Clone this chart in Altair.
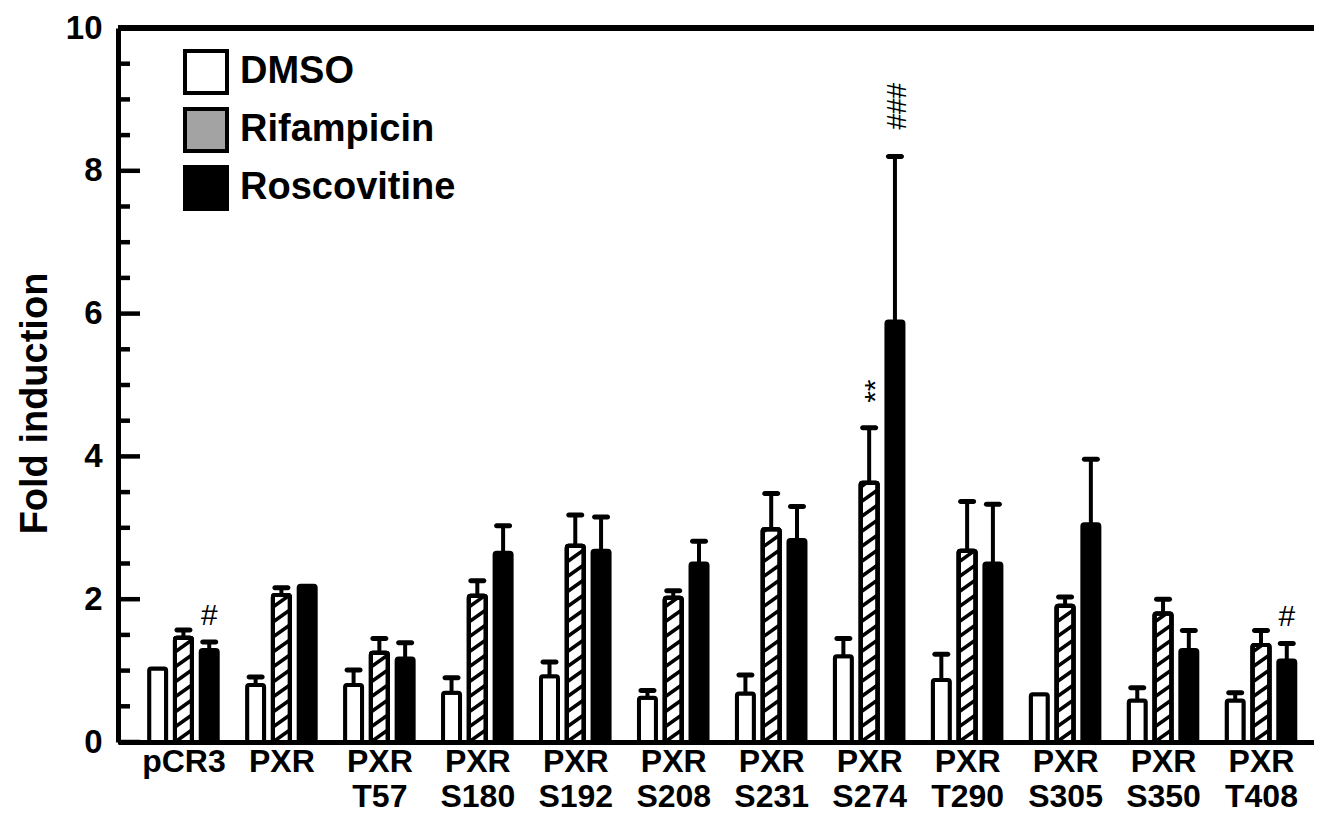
import altair as alt
import pandas as pd

# ---------------- data ----------------
group_labels = ["pCR3", "PXR", "PXR T57", "PXR S180", "PXR S192", "PXR S208",
                "PXR S231", "PXR S274", "PXR T290", "PXR S305", "PXR S350", "PXR T408"]
treatments = ["DMSO", "Rifampicin", "Roscovitine"]

dmso_mean = [1.03, 0.80, 0.80, 0.69, 0.92, 0.62, 0.68, 1.20, 0.87, 0.67, 0.58, 0.58]
dmso_err = [0.00, 0.11, 0.21, 0.21, 0.20, 0.10, 0.26, 0.25, 0.36, 0.00, 0.18, 0.11]
rif_mean = [1.46, 2.06, 1.25, 2.05, 2.75, 2.02, 2.98, 3.63, 2.68, 1.91, 1.80, 1.36]
rif_err = [0.11, 0.10, 0.20, 0.21, 0.43, 0.10, 0.50, 0.77, 0.69, 0.12, 0.20, 0.20]
ros_mean = [1.29, 2.19, 1.17, 2.65, 2.68, 2.50, 2.83, 5.89, 2.50, 3.05, 1.29, 1.14]
ros_err = [0.11, 0.00, 0.22, 0.38, 0.47, 0.31, 0.47, 2.31, 0.83, 0.91, 0.27, 0.24]

annot_group = ["pCR3", "PXR S274", "PXR S274", "PXR T408"]
annot_treat = ["Roscovitine", "Rifampicin", "Roscovitine", "Roscovitine"]
annot_text = ["#", "**", "###", "#"]
annot_rot = [False, True, True, False]

y_ticks = [0, 2, 4, 6, 8, 10]

# ---------------- layout constants ----------------
FONT = "Liberation Sans"
W, H = 1196, 714
X0, X1 = -0.617, 11.49
PXX = W / (X1 - X0)          # px per group unit
PXY = H / 10.0               # px per fold unit
offsets = {"DMSO": -26 / PXX, "Rifampicin": 0.0, "Roscovitine": 26 / PXX}

rows = []
for i, g in enumerate(group_labels):
    for t, m, e in zip(treatments, [dmso_mean[i], rif_mean[i], ros_mean[i]],
                       [dmso_err[i], rif_err[i], ros_err[i]]):
        rows.append({"group": g, "treatment": t, "xc": i + offsets[t],
                     "mean": m, "err": e, "top": m + e})
df = pd.DataFrame(rows)

# diagonal hatch for the Rifampicin bars (texture derived from bar heights)
half_px, period_px, rise_px = 8.5, 15.0, 12.0
hatch = []
for _, r in df[df.treatment == "Rifampicin"].iterrows():
    top_px = r["mean"] * PXY
    k = -1
    while True:
        y0 = k * period_px
        if y0 > top_px:
            break
        tmin = max(0.0, -y0 / rise_px)
        tmax = min(1.0, (top_px - y0) / rise_px)
        if tmin < tmax:
            xa = r.xc + (-half_px + tmin * 2 * half_px) / PXX
            xb = r.xc + (-half_px + tmax * 2 * half_px) / PXX
            hatch.append({"xa": xa, "xb": xb,
                          "ya": (y0 + tmin * rise_px) / PXY,
                          "yb": (y0 + tmax * rise_px) / PXY})
        k += 1
hatch_df = pd.DataFrame(hatch)

ann = pd.DataFrame({"group": annot_group, "treatment": annot_treat,
                    "label": annot_text, "rot": annot_rot})
ann = ann.merge(df, on=["group", "treatment"])

tick_major = pd.DataFrame({"v": y_ticks})
tick_minor = pd.DataFrame({"v": [x * 0.5 for x in range(21) if x * 0.5 not in y_ticks]})

# ---------------- scales / axes ----------------
label_expr = "[" + ",".join(
    "[" + ",".join("'" + p + "'" for p in g.split(" ")) + "]" for g in group_labels
) + "][datum.value]"

xscale = alt.Scale(domain=[X0, X1], nice=False, zero=False)
yscale = alt.Scale(domain=[0, 10], nice=False, zero=True)

xaxis = alt.Axis(values=list(range(len(group_labels))), ticks=False, grid=False,
                 domainWidth=5, domainColor="black", labelExpr=label_expr,
                 labelFont=FONT, labelFontWeight="bold", labelFontSize=32,
                 labelColor="black", labelPadding=4, labelLineHeight=35,
                 labelFlush=False, labelOverlap=False, labelBound=False, title=None)
yaxis = alt.Axis(values=y_ticks, format="d", ticks=False, grid=False, domainWidth=5,
                 domainColor="black", labelFont=FONT, labelFontWeight="bold",
                 labelFontSize=33, labelColor="black", labelPadding=16,
                 labelFlush=False, labelOverlap=False,
                 title="Fold induction", titleFont=FONT, titleFontWeight="bold",
                 titleFontSize=38, titleColor="black", titleAngle=270,
                 titleX=-72, titleY=375, titleAlign="center",
                 titleBaseline="alphabetic")

X = alt.X("xc:Q", scale=xscale, axis=xaxis)
Y = alt.Y("mean:Q", scale=yscale, axis=yaxis)

base = alt.Chart(df)

bars = base.mark_bar(size=17, stroke="black", strokeWidth=4,
                     cornerRadiusTopLeft=2, cornerRadiusTopRight=2).encode(
    x=X, y=Y,
    fill=alt.Fill("treatment:N",
                  scale=alt.Scale(domain=treatments,
                                  range=["white", "#a3a3a3", "black"]),
                  legend=alt.Legend(title=None, orient="none", legendX=65,
                                    legendY=21, symbolType="square",
                                    symbolSize=1764, symbolStrokeWidth=4,
                                    symbolStrokeColor="black", symbolOpacity=1,
                                    labelFont=FONT, labelFontWeight="bold",
                                    labelFontSize=38, labelColor="black",
                                    labelOffset=11, rowPadding=0, padding=0,
                                    labelLimit=400)))

rif = base.transform_filter(alt.datum.treatment == "Rifampicin")
rif_white = rif.mark_bar(size=17, fill="white", stroke="black", strokeWidth=4,
                         cornerRadiusTopLeft=2, cornerRadiusTopRight=2).encode(
    x="xc:Q", y="mean:Q")
stripes = alt.Chart(hatch_df).mark_rule(strokeWidth=3.5, color="black").encode(
    x="xa:Q", x2="xb:Q", y="ya:Q", y2="yb:Q")
rif_outline = rif.mark_bar(size=17, fill="white", fillOpacity=0, stroke="black",
                           strokeWidth=4, cornerRadiusTopLeft=2,
                           cornerRadiusTopRight=2).encode(x="xc:Q", y="mean:Q")

errs = base.transform_filter(alt.datum.err > 0)
err_line = errs.mark_rule(strokeWidth=4, color="black").encode(
    x="xc:Q", y="mean:Q", y2="top:Q")
err_cap = errs.mark_tick(orient="horizontal", size=18, thickness=5,
                         cornerRadius=2.5, color="black", opacity=1).encode(
    x="xc:Q", y="top:Q")

top_border = alt.Chart(df).mark_rule(strokeWidth=5, color="black").encode(
    y=alt.datum(10))

major = alt.Chart(tick_major).mark_rule(strokeWidth=4.5, color="black").encode(
    y="v:Q", x=alt.value(0), x2=alt.value(22))
minor = alt.Chart(tick_minor).mark_rule(strokeWidth=4.5, color="black").encode(
    y="v:Q", x=alt.value(0), x2=alt.value(12))

ann_flat = alt.Chart(ann).transform_filter(~alt.datum.rot).mark_text(
    font=FONT, fontSize=30, baseline="bottom", align="center", dy=-11,
    color="black").encode(x="xc:Q", y="top:Q", text="label:N")
ann_star = alt.Chart(ann).transform_filter(alt.datum.label == "**").mark_text(
    font=FONT, fontSize=30, baseline="middle", align="left", angle=270, dx=25,
    dy=7, color="black").encode(x="xc:Q", y="top:Q", text="label:N")
ann_hash = alt.Chart(ann).transform_filter(alt.datum.label == "###").mark_text(
    font=FONT, fontSize=28, baseline="middle", align="left", angle=270, dx=27,
    dy=3, color="black").encode(x="xc:Q", y="top:Q", text="label:N")

chart = alt.layer(bars, rif_white, stripes, rif_outline, err_line, err_cap,
                  top_border, major, minor, ann_flat, ann_star, ann_hash).properties(
    width=W, height=H,
    padding={"left": 110, "top": 20, "right": 0, "bottom": 76},
    autosize=alt.AutoSizeParams(type="none"),
).configure_view(stroke=None)

chart.save("out.html", embed_options={"renderer": "svg", "actions": False})
